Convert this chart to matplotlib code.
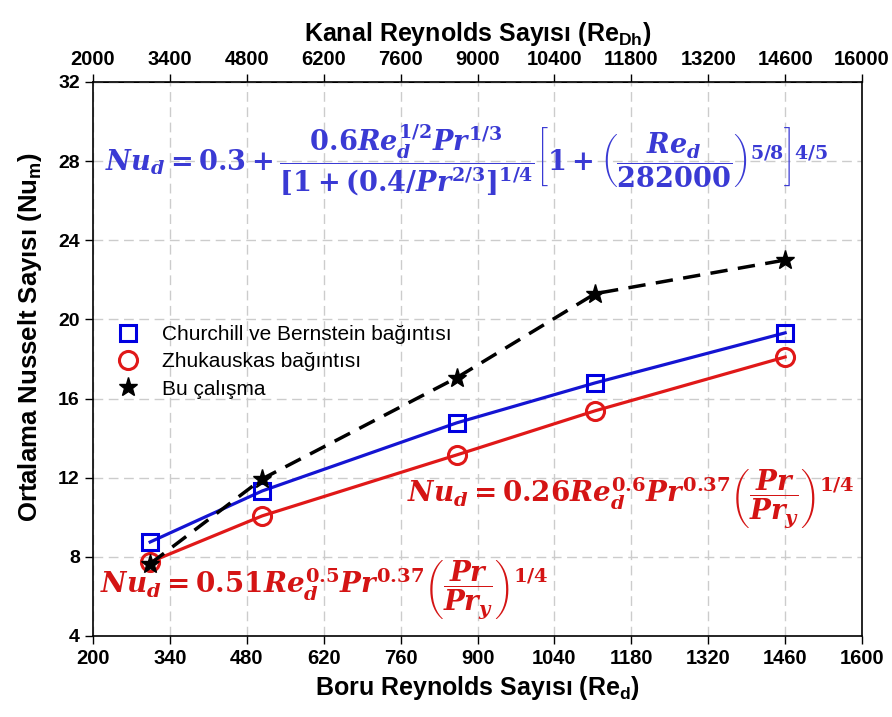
import matplotlib
matplotlib.use("Agg")
import matplotlib.pyplot as plt
from matplotlib.lines import Line2D

# ========== DATA ==========

re_d         = [304, 508, 862, 1114, 1460]          # pipe Reynolds number
nu_churchill = [8.75, 11.33, 14.77, 16.79, 19.32]   # Churchill & Bernstein
nu_zhuk      = [7.74, 10.07, 13.15, 15.38, 18.10]   # Zhukauskas
nu_study     = [7.65, 11.94, 17.05, 21.30, 23.00]   # this study

x_ticks   = [200, 340, 480, 620, 760, 900, 1040, 1180, 1320, 1460, 1600]
top_ticks = [2000, 3400, 4800, 6200, 7600, 9000, 10400, 11800, 13200, 14600, 16000]
y_ticks   = [4, 8, 12, 16, 20, 24, 28, 32]

# ========== FONTS ==========

plt.rcParams["font.family"] = ["Liberation Sans", "DejaVu Sans"]
plt.rcParams["mathtext.fontset"] = "custom"
plt.rcParams["mathtext.rm"] = "DejaVu Serif:bold"
plt.rcParams["mathtext.it"] = "DejaVu Serif:italic:bold"
plt.rcParams["mathtext.bf"] = "DejaVu Serif:bold"

BLUE = "#1414d2"
RED = "#e01818"

# ========== PLOTTING ==========

fig = plt.figure(figsize=(8.92, 7.17), dpi=100)
ax = fig.add_axes([0.1043, 0.113, 0.8621, 0.7727])

ax.plot(re_d, nu_churchill, color=BLUE, lw=2.3, marker="s", ms=12,
        mfc="none", mec="#0000e0", mew=2.2, zorder=3)
ax.plot(re_d, nu_zhuk, color=RED, lw=2.3, marker="o", ms=13,
        mfc="none", mec=RED, mew=2.2, zorder=3)
ax.plot(re_d, nu_study, color="black", lw=2.5, ls=(0, (5, 3)), marker="*", ms=14,
        mfc="black", mec="black", zorder=4)

ax.set_xlim(200, 1600)
ax.set_ylim(4, 32)
ax.set_xticks(x_ticks)
ax.set_yticks(y_ticks)
ax.grid(True, color="#cccccc", ls=(0, (7, 4)), lw=1)
ax.tick_params(direction="out", length=6, width=1)
for lab in ax.get_xticklabels():
    lab.set_fontweight("bold")
    lab.set_fontsize(14.5)
for lab in ax.get_yticklabels():
    lab.set_fontweight("bold")
    lab.set_fontsize(14)

ax.set_xlabel(r"Boru Reynolds Sayısı (Re$\mathregular{_d}$)",
              fontweight="bold", fontsize=18, labelpad=4)
ax.set_ylabel(r"Ortalama Nusselt Sayısı (Nu$\mathregular{_m}$)",
              fontweight="bold", fontsize=18.5)
ax.yaxis.set_label_coords(-0.064, 0.54)

# channel Reynolds number on top (Re_Dh = 10 Re_d)
top = ax.secondary_xaxis("top", functions=(lambda x: x * 10, lambda x: x / 10))
top.set_xticks(top_ticks)
top.tick_params(direction="out", length=6, width=1)
for lab in top.get_xticklabels():
    lab.set_fontweight("bold")
    lab.set_fontsize(14.5)
top.set_xlabel(r"Kanal Reynolds Sayısı (Re$\mathregular{_{Dh}}$)",
               fontweight="bold", fontsize=18, labelpad=6)

for s in ax.spines.values():
    s.set_linewidth(1.2)

# legend shows markers only
handles = [
    Line2D([], [], ls="none", marker="s", ms=12, mfc="none", mec="#0000e0", mew=2.2),
    Line2D([], [], ls="none", marker="o", ms=13, mfc="none", mec=RED, mew=2.2),
    Line2D([], [], ls="none", marker="*", ms=14, mfc="black", mec="black"),
]
labels = ["Churchill ve Bernstein bağıntısı", "Zhukauskas bağıntısı", "Bu çalışma"]
ax.legend(handles, labels, loc="upper left", bbox_to_anchor=(0.008, 0.595), frameon=False,
          fontsize=15, handlelength=1.0, handletextpad=1.1, labelspacing=0.4)

# ========== CORRELATIONS ==========

ax.text(222, 28.05,
        r"$Nu_d = 0.3 + \dfrac{0.6Re_d^{1/2}Pr^{1/3}}{[1+(0.4/Pr^{2/3}]^{1/4}}"
        r"\left[1+\left(\dfrac{Re_d}{282000}\right)^{5/8}\right]^{4/5}$",
        color="#3a3ad4", fontsize=19.5, ha="left", va="center")
ax.text(772, 10.9,
        r"$Nu_d = 0.26Re_d^{0.6}Pr^{0.37}\left(\dfrac{Pr}{Pr_y}\right)^{1/4}$",
        color="#d41414", fontsize=20, ha="left", va="center")
ax.text(212, 6.3,
        r"$Nu_d = 0.51Re_d^{0.5}Pr^{0.37}\left(\dfrac{Pr}{Pr_y}\right)^{1/4}$",
        color="#d41414", fontsize=20, ha="left", va="center")

fig.savefig("out.png", dpi=100)
